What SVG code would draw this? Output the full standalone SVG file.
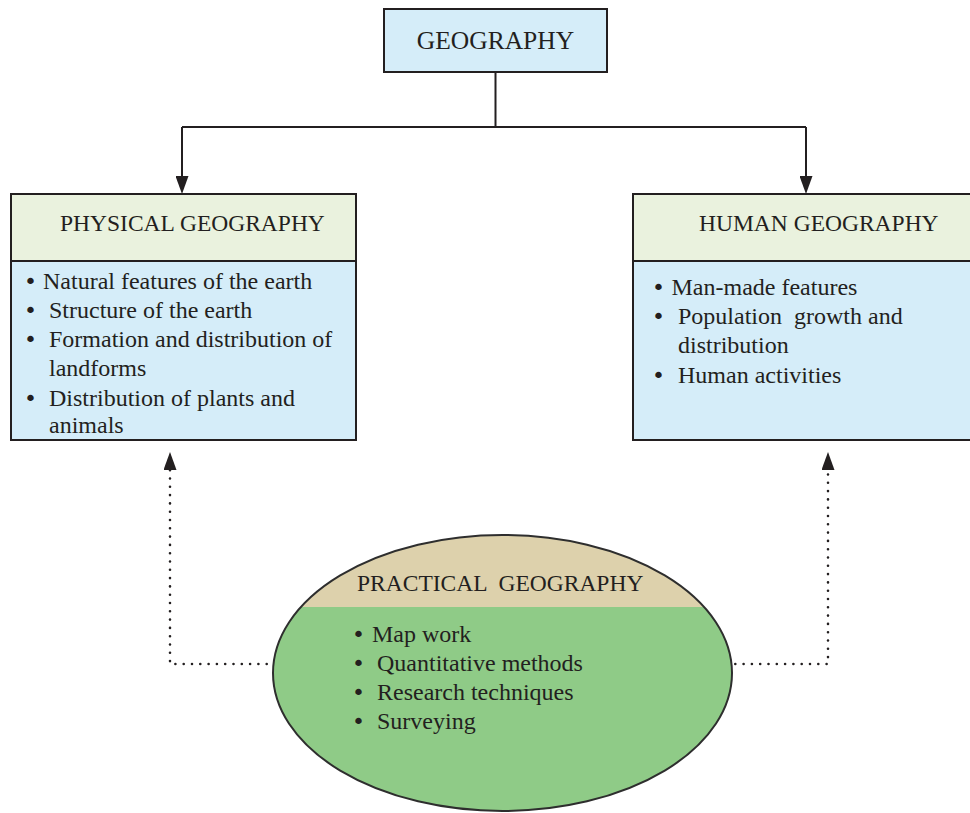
<svg xmlns="http://www.w3.org/2000/svg" width="970" height="813" viewBox="0 0 970 813">
<style>
text{font-family:"Liberation Serif","Times New Roman",serif;fill:#231f20}
.t{font-size:23.5px}
.b{font-size:24px}
.bu{font-family:"DejaVu Sans",sans-serif;font-size:22px}
.box{stroke:#231f20;stroke-width:2}
.blue{fill:#d5edf9}
.head{fill:#eaf2de}
.line{fill:none;stroke:#231f20;stroke-width:2}
.dot{fill:none;stroke:#231f20;stroke-width:2.6;stroke-linecap:round;stroke-dasharray:0 8.3}
</style>
<defs>
<marker id="arr" markerUnits="userSpaceOnUse" markerWidth="18" markerHeight="13" refX="0" refY="6.5" orient="auto" viewBox="0 0 18 13">
<path d="M0,0 L18,6.5 L0,13 Z" fill="#231f20"/>
</marker>
<clipPath id="ellClip"><ellipse cx="502.5" cy="673" rx="229.5" ry="138"/></clipPath>
</defs>
<rect width="970" height="813" fill="#ffffff"/>

<g id="connectors">
<path class="line" d="M495.5 72 V127 M182 127 H806"/>
<path class="line" d="M182 127 V176" marker-end="url(#arr)"/>
<path class="line" d="M806 127 V176" marker-end="url(#arr)"/>
<path class="dot" d="M275 664 H170 V470" marker-end="url(#arr)"/>
<path class="dot" d="M727 664 H828 V470" marker-end="url(#arr)"/>
</g>

<g id="geography">
<rect class="box blue" x="384" y="9" width="223" height="63"/>
<text x="495.5" y="49" text-anchor="middle" style="font-size:25.5px">GEOGRAPHY</text>
</g>

<g id="physical">
<rect class="box head" x="11" y="194" width="345" height="67"/>
<rect class="box blue" x="11" y="261" width="345" height="179"/>
<text class="t" x="60" y="231">PHYSICAL GEOGRAPHY</text>
<text class="bu" x="24" y="289">•</text><text class="b" x="43" y="289">Natural features of the earth</text>
<text class="bu" x="24" y="318">•</text><text class="b" x="49" y="318">Structure of the earth</text>
<text class="bu" x="24" y="347">•</text><text class="b" x="49" y="347">Formation and distribution of</text>
<text class="b" x="49" y="376">landforms</text>
<text class="bu" x="24" y="406">•</text><text class="b" x="49" y="406">Distribution of plants and</text>
<text class="b" x="49" y="433">animals</text>
</g>

<g id="human">
<rect class="box head" x="633" y="194" width="360" height="67"/>
<rect class="box blue" x="633" y="261" width="360" height="179"/>
<text class="t" x="699" y="231">HUMAN GEOGRAPHY</text>
<text class="bu" x="652" y="295">•</text><text class="b" x="671.5" y="295">Man-made features</text>
<text class="bu" x="652" y="324">•</text><text class="b" x="678" y="324" xml:space="preserve">Population  growth and</text>
<text class="b" x="678" y="353">distribution</text>
<text class="bu" x="652" y="383">•</text><text class="b" x="678" y="383">Human activities</text>
</g>

<g id="practical">
<ellipse cx="502.5" cy="673" rx="229.5" ry="138" fill="#8fcb87"/>
<rect x="270" y="530" width="470" height="77" fill="#ddd1ac" clip-path="url(#ellClip)"/>
<ellipse cx="502.5" cy="673" rx="229.5" ry="138" fill="none" stroke="#2e2e2e" stroke-width="2"/>
<text class="t" x="357" y="591" xml:space="preserve">PRACTICAL  GEOGRAPHY</text>
<text class="bu" x="352" y="642">•</text><text class="b" x="372" y="642">Map work</text>
<text class="bu" x="352" y="671">•</text><text class="b" x="377" y="671">Quantitative methods</text>
<text class="bu" x="352" y="700">•</text><text class="b" x="377" y="700">Research techniques</text>
<text class="bu" x="352" y="729">•</text><text class="b" x="377" y="729">Surveying</text>
</g>
</svg>
